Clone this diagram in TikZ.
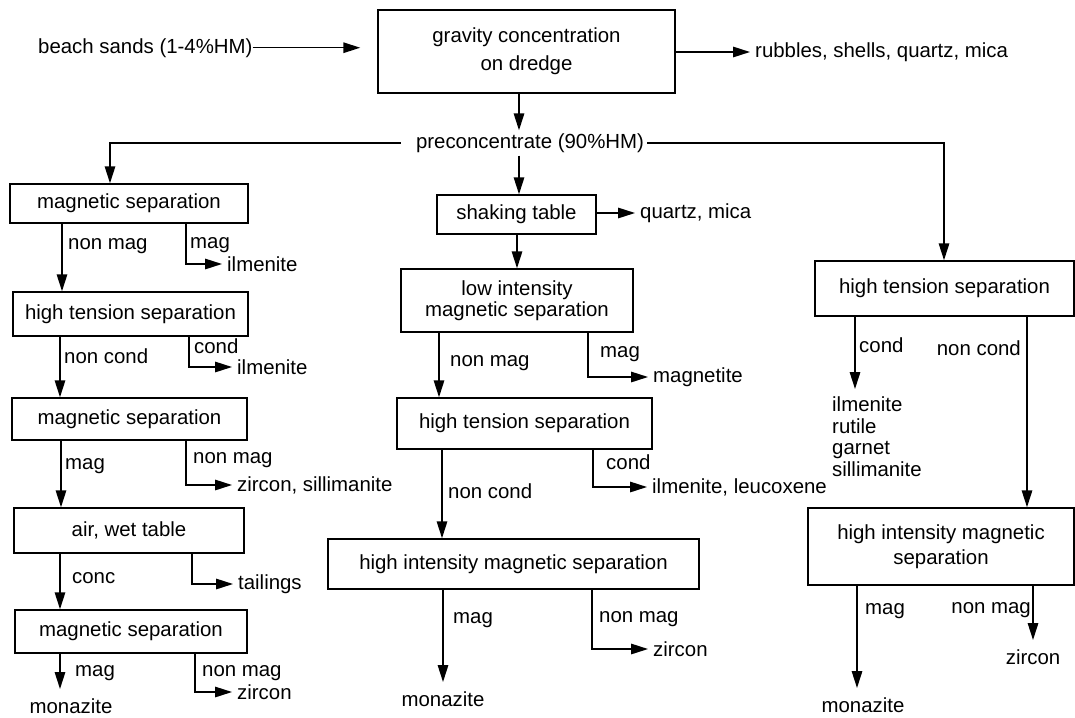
\documentclass[tikz,border=0pt]{standalone}
\usepackage{fontspec}
\setmainfont{Liberation Sans}
\usetikzlibrary{arrows.meta}
\begin{document}
\begin{tikzpicture}[x=1pt,y=-1pt,
  every node/.style={font=\fontsize{20.4}{23}\selectfont},
  box/.style={draw, line width=1.5pt, inner sep=0pt, align=center},
  arr/.style={line width=1.5pt, -{Triangle[length=17pt,width=10.5pt]}},
  lab/.style={anchor=base west, inner sep=0pt},
  outp/.style={anchor=west, inner xsep=5pt, inner ysep=2pt},
  endp/.style={anchor=north, inner xsep=0pt, inner ysep=10pt}]
\useasboundingbox (0,0) rectangle (1075,717);

% feed and dredge
\node[box, minimum width=297pt, minimum height=83pt, font=\fontsize{20.4}{28}\selectfont] (top) at (526.5,51.5) {gravity concentration\\on dredge};
\node[anchor=base west, inner sep=0pt] (beach) at (38,53) {beach sands (1-4\%HM)};
\draw[arr, shorten >=17pt] (beach.east) -- (beach.east -| top.west);
\node[outp] (rub) at (750,52) {rubbles, shells, quartz, mica};
\draw[arr] (top.east |- rub.west) -- (rub.west);

\node[inner xsep=3pt, inner ysep=3pt] (pre) at (530,143) {preconcentrate (90\%HM)};
\draw[arr] (519,0 |- top.south) -- (519,0 |- pre.north);

% middle route
\node[box, minimum width=159pt, minimum height=39pt] (M1) at (516.5,214.5) {shaking table};
\draw[arr] (519,0 |- pre.south) -- (519,0 |- M1.north);
\node[outp] (qm) at (635,213) {quartz, mica};
\draw[arr] (M1.east |- qm.west) -- (qm.west);
\node[box, minimum width=232pt, minimum height=63pt, font=\fontsize{20.4}{21}\selectfont] (M2) at (517,300.5) {low intensity\\magnetic separation};
\draw[arr] (517,0 |- M1.south) -- (517,0 |- M2.north);
\node[box, minimum width=255pt, minimum height=51pt] (M3) at (524.5,423.5) {high tension separation};
\draw[arr] (439,0 |- M2.south) -- (439,0 |- M3.north);
\node[lab] at (450,366) {non mag};
\node[outp] (mgt) at (648,377) {magnetite};
\draw[arr] (588,0 |- M2.south) |- (mgt.west);
\node[lab] at (600,357) {mag};
\node[box, minimum width=371pt, minimum height=50pt] (M4) at (513.5,564) {high intensity magnetic separation};
\draw[arr] (442,0 |- M3.south) -- (442,0 |- M4.north);
\node[lab] at (448,498) {non cond};
\node[outp] (ilx) at (647,487) {ilmenite, leucoxene};
\draw[arr] (593,0 |- M3.south) |- (ilx.west);
\node[lab] at (606,469) {cond};
\node[endp] (monM) at (443,682) {monazite};
\draw[arr] (443,0 |- M4.south) -- (monM.north);
\node[lab] at (453,623) {mag};
\node[outp] (zM) at (648,649) {zircon};
\draw[arr] (592,0 |- M4.south) |- (zM.west);
\node[lab] at (599,622) {non mag};

% left route
\node[box, minimum width=238pt, minimum height=39pt] (L1) at (129,203.5) {magnetic separation};
\draw[arr] ([xshift=-12pt]pre.west) -| (110,0 |- L1.north);
\node[box, minimum width=235pt, minimum height=44pt] (L2) at (130.5,314) {high tension separation};
\draw[arr] (62,0 |- L1.south) -- (62,0 |- L2.north);
\node[lab] at (68,249) {non mag};
\node[outp] (il1) at (222,264) {ilmenite};
\draw[arr] (186,0 |- L1.south) |- (il1.west);
\node[lab] at (190,248) {mag};
\node[box, minimum width=235pt, minimum height=42pt] (L3) at (129.5,419) {magnetic separation};
\draw[arr] (60,0 |- L2.south) -- (60,0 |- L3.north);
\node[lab] at (64,363) {non cond};
\node[outp] (il2) at (232,367) {ilmenite};
\draw[arr] (189,0 |- L2.south) |- (il2.west);
\node[lab] at (194,353) {cond};
\node[box, minimum width=230pt, minimum height=45pt] (L4) at (129,530.5) {air, wet table};
\draw[arr] (61,0 |- L3.south) -- (61,0 |- L4.north);
\node[lab] at (65,469) {mag};
\node[outp] (zs) at (232,485) {zircon, sillimanite};
\draw[arr] (186,0 |- L3.south) |- (zs.west);
\node[lab] at (193,463) {non mag};
\node[box, minimum width=232pt, minimum height=43pt] (L5) at (131,631.5) {magnetic separation};
\draw[arr] (60,0 |- L4.south) -- (60,0 |- L5.north);
\node[lab] at (72,583) {conc};
\node[outp] (tl) at (233,584) {tailings};
\draw[arr] (192,0 |- L4.south) |- (tl.west);
\node[endp] (monL) at (71,689) {monazite};
\draw[arr] (60,0 |- L5.south) -- (60,0 |- monL.north);
\node[lab] at (75,676) {mag};
\node[outp] (z1) at (232,692) {zircon};
\draw[arr] (195,0 |- L5.south) |- (z1.west);
\node[lab] at (202,676) {non mag};

% right route
\node[box, minimum width=259pt, minimum height=55pt] (R1) at (944.5,288.5) {high tension separation};
\draw[arr] (pre.east) -| (944,0 |- R1.north);
\node[anchor=north west, inner xsep=0pt, inner ysep=8pt, align=left, font=\fontsize{20.4}{21.5}\selectfont] (rlist) at (832,389) {ilmenite\\rutile\\garnet\\sillimanite};
\draw[arr] (855,0 |- R1.south) -- (855,0 |- rlist.north);
\node[lab] at (859,352) {cond};
\node[box, minimum width=266pt, minimum height=77pt, font=\fontsize{20.4}{25}\selectfont] (R2) at (941,546.5) {high intensity magnetic\\separation};
\draw[arr] (1027,0 |- R1.south) -- (1027,0 |- R2.north);
\node[lab, anchor=base east] at (1021,355) {non cond};
\node[endp] (monR) at (863,688) {monazite};
\draw[arr] (857,0 |- R2.south) -- (857,0 |- monR.north);
\node[lab] at (865,614) {mag};
\node[endp] (zR) at (1033,640) {zircon};
\draw[arr] (1033,0 |- R2.south) -- (zR.north);
\node[lab, anchor=base east] at (1031,613) {non mag};
\end{tikzpicture}
\end{document}
